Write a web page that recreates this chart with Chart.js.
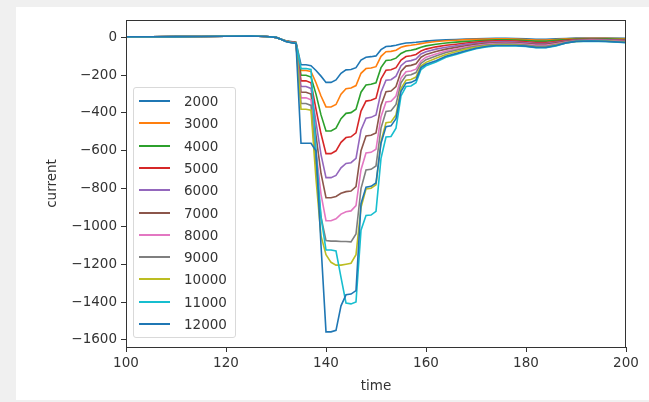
<!DOCTYPE html>
<html>
<head>
<meta charset="utf-8">
<script src="https://cdn.jsdelivr.net/npm/chart.js@4.4.0/dist/chart.umd.min.js"></script>
<style>
  html, body { margin: 0; padding: 0; background: #f0f0f0; }
  body { width: 649px; height: 402px; position: relative; overflow: hidden; font-family: "DejaVu Sans", sans-serif; }
  #panel { position: absolute; left: 16px; top: 7px; width: 633px; height: 393px; background: #fff; }
  #chart { position: absolute; left: 0; top: 0; }
  #legend { position: absolute; left: 133px; top: 87px; width: 103px; height: 251px; box-sizing: border-box;
            border: 1px solid #d9d9d9; border-radius: 3px; background: rgba(255,255,255,0.8); }
  .row { position: absolute; left: 0; width: 100%; height: 0; }
  .swatch { position: absolute; left: 5px; top: -1px; width: 31px; height: 2px; }
  .lbl { position: absolute; left: 50px; top: -8px; font-size: 13.5px; line-height: 16px; color: #333; }
</style>
</head>
<body>
<div id="panel"></div>
<canvas id="chart" width="649" height="402"></canvas>
<div id="legend"></div>
<script>
const times = [100, 105, 110, 115, 120, 125, 128, 130, 131, 132, 133, 134,
    135, 136, 137, 138, 139, 140, 141, 142, 143, 144, 145, 146, 147, 148, 149, 150,
    151, 152, 153, 154, 155, 156, 157, 158, 159, 160,
    162, 164, 166, 168, 170, 172, 174, 176, 178, 180, 182, 184, 186, 188, 190, 193, 196, 200];

const labels = ["2000", "3000", "4000", "5000", "6000", "7000", "8000", "9000", "10000", "11000", "12000"];
const colors = ["#1f77b4", "#ff7f0e", "#2ca02c", "#d62728", "#9467bd", "#8c564b", "#e377c2", "#7f7f7f", "#bcbd22", "#17becf", "#1f77b4"];

const s2000 = [3, 3, 4, 5, 6, 7, 5, 0, -10, -18, -22, -26,
    -145, -145, -150, -175, -205, -238, -238, -225, -190, -172, -170, -160, -120, -105, -102, -98,
    -65, -48, -46, -42, -35, -30, -28, -26, -23, -20,
    -16, -13, -11, -9, -7, -6, -5, -5, -6, -8, -10, -10, -8, -6, -4, -3, -3, -5];
const s3000 = [3, 3, 4, 5, 6, 7, 5, 0, -10, -19, -23, -27,
    -175, -175, -180, -240, -310, -368, -368, -355, -300, -272, -268, -255, -190, -165, -162, -155,
    -100, -76, -74, -68, -52, -45, -42, -38, -33, -28,
    -22, -18, -15, -12, -10, -9, -8, -8, -9, -12, -14, -14, -11, -8, -6, -5, -5, -8];
const s4000 = [3, 3, 4, 5, 6, 7, 5, 0, -10, -19, -24, -28,
    -200, -200, -210, -300, -410, -495, -495, -480, -430, -402, -398, -380, -290, -252, -248, -240,
    -160, -122, -120, -110, -85, -72, -68, -62, -52, -45,
    -36, -30, -25, -21, -18, -15, -13, -13, -14, -17, -20, -20, -16, -12, -9, -8, -8, -12];
const s5000 = [3, 3, 4, 5, 6, 7, 5, 0, -10, -20, -24, -28,
    -230, -230, -240, -380, -510, -615, -615, -600, -555, -530, -526, -505, -390, -337, -333, -322,
    -220, -174, -171, -160, -120, -101, -97, -90, -72, -62,
    -50, -42, -36, -30, -25, -21, -18, -18, -20, -23, -27, -27, -22, -16, -12, -10, -11, -15];
const s6000 = [3, 3, 4, 5, 6, 7, 5, 0, -10, -20, -25, -29,
    -260, -260, -270, -450, -620, -742, -742, -730, -690, -667, -663, -640, -490, -427, -423, -410,
    -290, -227, -224, -205, -150, -127, -123, -115, -88, -76,
    -62, -52, -44, -37, -31, -26, -23, -22, -24, -28, -32, -32, -26, -19, -14, -12, -13, -17];
const s7000 = [3, 3, 4, 5, 6, 7, 5, 0, -10, -20, -25, -29,
    -290, -290, -300, -520, -720, -848, -848, -842, -825, -816, -813, -790, -600, -522, -518, -505,
    -360, -287, -284, -260, -180, -152, -148, -140, -105, -90,
    -75, -62, -53, -44, -37, -31, -28, -27, -28, -32, -36, -36, -29, -21, -16, -14, -15, -19];
const s8000 = [3, 3, 4, 5, 6, 7, 5, 0, -10, -21, -26, -30,
    -320, -320, -330, -600, -830, -970, -970, -960, -935, -922, -918, -890, -700, -612, -608, -592,
    -420, -342, -338, -310, -215, -182, -178, -168, -125, -105,
    -88, -72, -62, -51, -43, -36, -32, -31, -33, -37, -42, -42, -34, -24, -18, -16, -17, -22];
const s9000 = [3, 3, 4, 5, 6, 7, 5, 0, -10, -21, -26, -30,
    -350, -350, -360, -680, -950, -1075, -1078, -1078, -1080, -1080, -1082, -1040, -800, -702, -698, -680,
    -480, -392, -388, -355, -240, -202, -198, -186, -138, -118,
    -98, -80, -68, -56, -47, -40, -36, -35, -37, -41, -47, -47, -38, -27, -20, -18, -19, -24];
const s10000 = [3, 3, 4, 5, 6, 7, 5, 0, -10, -21, -27, -31,
    -380, -380, -385, -750, -1050, -1150, -1190, -1205, -1205, -1200, -1195, -1150, -900, -802, -798, -780,
    -550, -452, -448, -410, -270, -227, -223, -210, -152, -132,
    -110, -90, -76, -62, -52, -44, -40, -39, -41, -45, -51, -51, -41, -29, -21, -19, -20, -26];
const s11000 = [3, 3, 4, 5, 6, 7, 5, 0, -10, -22, -27, -31,
    -165, -165, -170, -600, -950, -1125, -1125, -1130, -1270, -1405, -1410, -1400, -1020, -942, -940, -920,
    -640, -527, -524, -480, -310, -260, -257, -240, -170, -150,
    -130, -105, -90, -75, -60, -50, -45, -45, -45, -48, -55, -55, -45, -30, -22, -20, -22, -28];
const s12000 = [3, 3, 4, 5, 6, 7, 5, 0, -10, -22, -28, -32,
    -560, -560, -560, -600, -1100, -1558, -1558, -1550, -1420, -1362, -1358, -1340, -880, -792, -788, -770,
    -560, -472, -468, -430, -285, -242, -238, -225, -160, -142,
    -124, -100, -86, -71, -57, -48, -43, -43, -43, -46, -53, -53, -43, -29, -21, -19, -21, -27];

const series = [s2000, s3000, s4000, s5000, s6000, s7000, s8000, s9000, s10000, s11000, s12000];

const xTicks = [100, 120, 140, 160, 180, 200];
const yTicks = [0, -200, -400, -600, -800, -1000, -1200, -1400, -1600];

const tickFont = { family: "DejaVu Sans", size: 13.5 };
const ink = "#333";

// matplotlib draws the last line on top, chart.js the first: flip the order
const datasets = series.map((vals, i) => ({
    label: labels[i],
    data: times.map((t, j) => ({ x: t, y: vals[j] })),
    borderColor: colors[i],
    borderWidth: 1.6,
    pointRadius: 0,
    tension: 0,
    fill: false,
    order: series.length - i,
}));

const frame = {
    id: "frame",
    afterDraw(chart) {
        const { ctx, chartArea: a } = chart;
        ctx.save();
        ctx.strokeStyle = ink;
        ctx.lineWidth = 1;
        ctx.strokeRect(a.left + 0.5, a.top + 0.5, a.right - a.left - 1, a.bottom - a.top);
        ctx.restore();
    },
};

const ctx = document.getElementById("chart").getContext("2d");
new Chart(ctx, {
    type: "line",
    data: { datasets },
    options: {
        responsive: false,
        animation: false,
        events: [],
        layout: { padding: { top: 20, right: 23, bottom: 0, left: 0 } },
        plugins: { legend: { display: false }, tooltip: { enabled: false } },
        scales: {
            x: {
                type: "linear",
                min: 100,
                max: 200,
                afterBuildTicks: s => { s.ticks = xTicks.map(v => ({ value: v })); },
                afterFit: s => { s.height = 55; },
                ticks: { color: ink, font: tickFont, padding: 3, maxRotation: 0 },
                grid: { display: true, drawOnChartArea: false, drawTicks: true, tickLength: 5, color: ink },
                border: { display: true, color: ink },
                title: { display: true, text: "time", color: ink, font: tickFont, padding: { top: 0, bottom: 7 } },
            },
            y: {
                type: "linear",
                min: -1638,
                max: 92,
                afterBuildTicks: s => { s.ticks = yTicks.map(v => ({ value: v })); },
                afterFit: s => { s.width = 126; },
                ticks: {
                    color: ink,
                    font: tickFont,
                    padding: 4,
                    callback: v => (v < 0 ? "\u2212" + Math.abs(v) : String(v)),
                },
                grid: { display: true, drawOnChartArea: false, drawTicks: true, tickLength: 5, color: ink },
                border: { display: true, color: ink },
                title: { display: true, text: "current", color: ink, font: tickFont, padding: { top: 44, bottom: 0 } },
            },
        },
    },
    plugins: [frame],
});

// legend box inside the axes, like matplotlib's "best" location
const legend = document.getElementById("legend");
labels.forEach((name, i) => {
    const row = document.createElement("div");
    row.className = "row";
    row.style.top = (13 + i * 22.3) + "px";
    row.innerHTML = `<div class="swatch" style="background:${colors[i]}"></div><div class="lbl">${name}</div>`;
    legend.appendChild(row);
});
</script>
</body>
</html>
